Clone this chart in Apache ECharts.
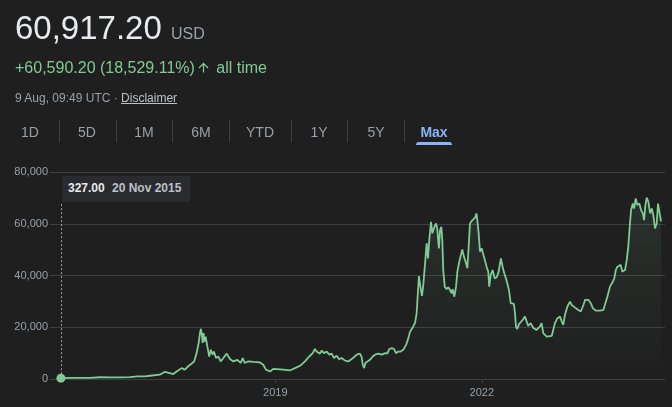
<!DOCTYPE html>
<html>
<head>
<meta charset="utf-8">
<script src="https://cdn.jsdelivr.net/npm/echarts@6/dist/echarts.min.js"></script>
<style>
  html, body { margin:0; padding:0; background:#1f1f1f; width:672px; height:407px; overflow:hidden; }
  body { font-family: "Liberation Sans", Arial, sans-serif; position:relative; }
  #chart { position:absolute; left:0; top:0; width:672px; height:407px; }
  .abs { position:absolute; white-space:nowrap; }
  .tab { position:absolute; top:125px; font-size:14px; line-height:14px; color:#9aa0a6; transform:translateX(-50%); }
  .sep { position:absolute; top:120px; width:1px; height:22px; background:#3c4043; }
</style>
</head>
<body>
<div id="chart"></div>

<div class="abs" style="left:15px;top:11px;font-size:33px;line-height:33px;color:#e8eaed;">60,917.20</div>
<div class="abs" style="left:171px;top:26px;font-size:16px;line-height:16px;color:#9aa0a6;">USD</div>
<div class="abs" style="left:15px;top:60px;font-size:16px;line-height:16px;color:#81c995;">+60,590.20 (18,529.11%)<svg width="15" height="15" viewBox="0 0 24 24" style="vertical-align:-2px;margin:0 1px 0 1px"><path fill="#81c995" d="M4 12l1.41 1.41L11 7.83V20h2V7.83l5.58 5.59L20 12l-8-8-8 8z"/></svg> all time</div>
<div class="abs" style="left:15px;top:92px;font-size:12px;line-height:12px;color:#9aa0a6;">9 Aug, 09:49 UTC · <span style="text-decoration:underline;color:#bdc1c6;">Disclaimer</span></div>

<div id="tabs"></div>

<div class="abs" style="left:62px;top:176px;width:128px;height:26px;background:#2a2b2e;"></div>
<div class="abs" style="left:68px;top:182px;font-size:12px;line-height:12px;font-weight:bold;color:#e8eaed;">327.00</div>
<div class="abs" style="left:112px;top:182px;font-size:12px;line-height:12px;font-weight:bold;color:#bdc1c6;">20 Nov 2015</div>

<script>
// ---- data ----
const tabLabels = ['1D','5D','1M','6M','YTD','1Y','5Y','Max'];
const activeTab = 'Max';
const yTicks = [0, 20000, 40000, 60000, 80000];
const xTickYears = [2019, 2022];

const dates = [
'2015-11-20','2016-01-07','2016-02-29','2016-04-22','2016-06-14','2016-08-06','2016-09-28','2016-11-20',
'2017-01-01','2017-02-08','2017-03-06','2017-04-28','2017-05-25','2017-06-20','2017-07-08','2017-07-26',
'2017-08-21','2017-09-08','2017-09-25','2017-10-13','2017-10-27','2017-11-09','2017-11-20','2017-11-27',
'2017-12-02','2017-12-07','2017-12-11','2017-12-16','2017-12-21','2017-12-27','2018-01-05','2018-01-15',
'2018-01-24','2018-02-02','2018-02-09','2018-02-20','2018-03-04','2018-03-17','2018-03-31','2018-04-18',
'2018-05-05','2018-05-23','2018-06-13','2018-07-01','2018-07-12','2018-07-22','2018-08-10','2018-08-19',
'2018-09-06','2018-10-11','2018-10-29','2018-11-12','2018-12-04','2018-12-21','2019-02-12','2019-03-19',
'2019-04-15','2019-05-12','2019-06-07','2019-06-30','2019-07-18','2019-07-30','2019-08-08','2019-08-17',
'2019-08-26','2019-09-04','2019-09-16','2019-09-30','2019-10-14','2019-10-27','2019-11-08','2019-11-22',
'2019-12-06','2019-12-19','2020-01-06','2020-01-23','2020-02-10','2020-02-23','2020-03-08','2020-03-25',
'2020-04-03','2020-04-09','2020-04-16','2020-04-23','2020-05-03','2020-05-17','2020-06-01','2020-06-13',
'2020-07-01','2020-07-19','2020-08-05','2020-08-17','2020-08-28','2020-09-10','2020-09-22','2020-10-02',
'2020-10-15','2020-10-27','2020-11-10','2020-11-25','2020-12-07','2020-12-16','2020-12-25','2021-01-02',
'2021-01-11','2021-01-20','2021-01-23','2021-02-01','2021-02-10','2021-02-17','2021-02-24','2021-03-05',
'2021-03-14','2021-03-21','2021-03-28','2021-04-06','2021-04-13','2021-04-24','2021-05-03','2021-05-09',
'2021-05-18','2021-05-24','2021-05-31','2021-06-05','2021-06-10','2021-06-18','2021-06-28','2021-07-07',
'2021-07-16','2021-07-25','2021-07-30','2021-08-08','2021-08-17','2021-08-24','2021-09-03','2021-09-12',
'2021-09-19','2021-09-28','2021-10-07','2021-10-16','2021-10-23','2021-10-30','2021-11-08','2021-11-17',
'2021-11-26','2021-12-03','2021-12-08','2021-12-15','2021-12-22','2021-12-31','2022-01-08','2022-01-17',
'2022-01-26','2022-02-04','2022-02-09','2022-02-17','2022-02-27','2022-03-10','2022-03-21','2022-03-31',
'2022-04-12','2022-04-21','2022-04-30','2022-05-09','2022-05-16','2022-05-25','2022-06-03','2022-06-11',
'2022-06-20','2022-06-26','2022-07-01','2022-07-08','2022-07-17','2022-07-26','2022-08-06','2022-08-18',
'2022-08-27','2022-09-04','2022-09-13','2022-09-17','2022-10-01','2022-10-19','2022-11-05','2022-11-14',
'2022-11-23','2022-12-11','2023-01-07','2023-01-15','2023-01-24','2023-02-06','2023-02-20','2023-03-01',
'2023-03-09','2023-03-18','2023-03-31','2023-04-14','2023-04-23','2023-05-02','2023-05-14','2023-05-28',
'2023-06-10','2023-06-24','2023-07-03','2023-07-20','2023-08-02','2023-08-13','2023-08-30','2023-09-20',
'2023-10-08','2023-10-17','2023-10-29','2023-11-12','2023-11-27','2023-12-05','2023-12-13','2023-12-21',
'2023-12-30','2024-01-08','2024-01-16','2024-01-31','2024-02-09','2024-02-17','2024-02-26','2024-03-03',
'2024-03-12','2024-03-19','2024-03-28','2024-04-05','2024-04-16','2024-04-25','2024-05-04','2024-05-11',
'2024-05-18','2024-05-25','2024-06-03','2024-06-12','2024-06-21','2024-06-29','2024-07-08','2024-07-17',
'2024-07-24','2024-07-31','2024-08-09'
];
const prices = [
327,420,430,450,680,590,610,740,
1000,1050,1250,1660,2800,2300,1900,2900,
4200,3600,4900,5900,6800,10000,13900,17700,
19400,17100,13900,17700,14500,16400,12600,8700,
11300,9400,10600,8100,8700,6800,8100,9800,
7700,6800,7400,6200,8100,6200,6800,6200,
6600,6400,5500,3600,2900,3900,3600,3300,
4200,5100,6800,8700,10000,11600,10600,11300,
9800,11000,10000,10600,9400,9800,8100,9000,
7700,8100,7100,6800,7700,8500,9400,9800,
8500,5500,4200,6200,6800,7400,8700,9400,
9800,9400,10000,9800,11600,11900,11600,10000,
10600,10600,11300,13200,15800,18300,19300,19000,
21600,25400,29300,39800,35100,32100,36300,44100,
52400,46600,53700,60700,56300,58800,60100,58200,
50500,57500,58800,53700,42100,35700,34700,35500,
34400,33100,34700,31800,35700,41500,45300,47900,
50100,47300,45300,42800,51100,60100,61100,61700,
62400,64000,61400,56300,49200,50500,48300,46000,
43400,41500,35700,40200,42100,38900,39300,41500,
46600,43400,40900,38900,37000,34400,29300,28600,
29000,25400,20300,19300,21200,20500,22900,24100,
23500,20500,20300,21600,19700,19000,20300,21600,
17700,16400,16700,17100,21600,23500,24100,22200,
20900,24800,28000,29900,28600,29300,27400,26700,
26100,28600,30600,30600,29300,27400,26400,26400,
26700,27400,31800,35700,37600,38900,42100,43400,
43200,44100,41500,42100,46000,51100,60100,65300,
67800,65900,69800,67200,67800,65300,64000,61400,
67200,70100,68400,64000,65900,63300,58200,60100,
67800,68400,60917
];

// ---- tabs ----
const tabCenters = [30, 87, 144, 201, 260, 319, 376, 434];
const sepXs = [59, 116, 172, 229, 291, 347, 404];
const tabsEl = document.getElementById('tabs');
tabLabels.forEach((t, i) => {
  const s = document.createElement('div');
  s.className = 'tab';
  s.style.left = tabCenters[i] + 'px';
  s.textContent = t;
  if (t === activeTab) { s.style.color = '#8ab4f8'; s.style.fontWeight = 'bold'; }
  tabsEl.appendChild(s);
});
sepXs.forEach(x => {
  const d = document.createElement('div');
  d.className = 'sep'; d.style.left = x + 'px';
  tabsEl.appendChild(d);
});
const ul = document.createElement('div');
ul.className = 'abs';
ul.style.cssText = 'left:416px;top:142px;width:36px;height:3px;background:#8ab4f8;border-radius:3px 3px 0 0;';
tabsEl.appendChild(ul);

// ---- chart ----
const DAY = 86400000;
const times = dates.map(d => Date.parse(d));
const seriesData = times.map((t, i) => [t, prices[i]]);
const t0 = times[0], tEnd = times[times.length - 1];
const padLeftDays = 58, padRightDays = 21;
const crosshairTop = 68000;
const yearTicks = xTickYears.map(y => Date.UTC(y, 0, 1));

const chart = echarts.init(document.getElementById('chart'), null, { renderer: 'canvas' });
chart.setOption({
  backgroundColor: 'transparent',
  animation: false,
  grid: { left: 50, right: 7, top: 172, bottom: 28 },
  xAxis: {
    type: 'value',
    min: t0 - padLeftDays * DAY,
    max: tEnd + padRightDays * DAY,
    axisLine: { show: false },
    splitLine: { show: false },
    axisTick: { show: true, length: 4, lineStyle: { color: '#3c4043' }, customValues: yearTicks },
    axisLabel: {
      color: '#9aa0a6', fontSize: 11, margin: 8,
      fontFamily: '"Liberation Sans", Arial, sans-serif',
      customValues: yearTicks,
      formatter: v => String(new Date(v).getUTCFullYear())
    }
  },
  yAxis: {
    type: 'value',
    min: yTicks[0], max: yTicks[yTicks.length - 1], interval: 20000,
    axisLine: { show: false }, axisTick: { show: false },
    splitLine: { show: true, lineStyle: { color: '#3c4043', width: 1 } },
    axisLabel: {
      color: '#9aa0a6', fontSize: 11, margin: 2,
      fontFamily: '"Liberation Sans", Arial, sans-serif',
      formatter: v => v.toLocaleString('en-US')
    }
  },
  series: [{
    type: 'line',
    data: seriesData,
    showSymbol: false,
    symbol: 'none',
    lineStyle: { color: '#81c995', width: 1.8 },
    areaStyle: {
      color: new echarts.graphic.LinearGradient(0, 0, 0, 1, [
        { offset: 0, color: 'rgba(129,201,149,0.16)' },
        { offset: 1, color: 'rgba(129,201,149,0)' }
      ])
    },
    markLine: {
      silent: true, symbol: 'none', animation: false,
      label: { show: false },
      lineStyle: { color: '#9aa0a6', type: [2, 2], width: 1 },
      data: [[{ coord: [t0, prices[0]] }, { coord: [t0, crosshairTop] }]]
    },
    markPoint: {
      silent: true, symbol: 'circle', symbolSize: 9, animation: false,
      itemStyle: { color: '#81c995' }, label: { show: false },
      data: [{ coord: [t0, prices[0]] }]
    }
  }]
});
</script>
</body>
</html>
